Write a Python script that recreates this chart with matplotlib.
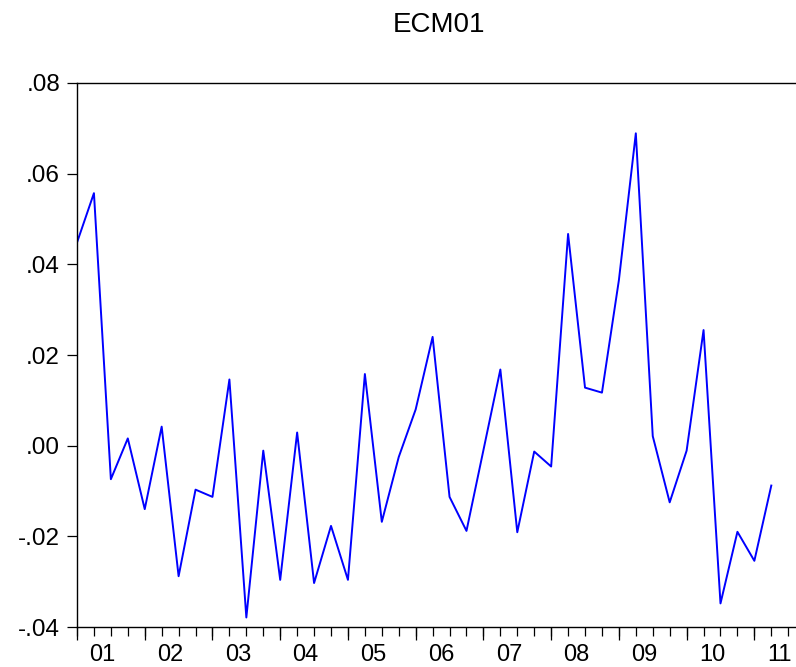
import matplotlib
matplotlib.use("Agg")
import matplotlib.pyplot as plt

# ECM01 quarterly residuals
ecm01 = [0.0448, 0.0557, -0.0074, 0.0016, -0.0140, 0.0042, -0.0288, -0.0097,
         -0.0113, 0.0146, -0.0379, -0.0011, -0.0296, 0.0029, -0.0303, -0.0177,
         -0.0296, 0.0158, -0.0168, -0.0025, 0.0080, 0.0240, -0.0113, -0.0188,
         -0.0010, 0.0168, -0.0191, -0.0013, -0.0046, 0.0467, 0.0128, 0.0117,
         0.0365, 0.0689, 0.0021, -0.0125, -0.0011, 0.0255, -0.0348, -0.0190,
         -0.0254, -0.0088]
year_labels = ["01", "02", "03", "04", "05", "06", "07", "08", "09", "10", "11"]
y_ticks = [-0.04, -0.02, 0.00, 0.02, 0.04, 0.06, 0.08]

plt.rcParams['font.family'] = ['Liberation Sans', 'DejaVu Sans']

fig = plt.figure(figsize=(7.96, 6.67), dpi=100)
ax = fig.add_axes([77/796, 40/667, 718/796, 544/667])

x = list(range(len(ecm01)))
ax.plot(x, ecm01, color="#0000ff", lw=1.4)

ax.set_xlim(0, 42.4)
ax.set_ylim(-0.04, 0.08)

ax.spines['right'].set_visible(False)
for s in ['left', 'top', 'bottom']:
    ax.spines[s].set_linewidth(1.0)

# y axis
ax.set_yticks(y_ticks)
ax.set_yticklabels([("%.2f" % v).replace("0.", ".") for v in y_ticks])
ax.tick_params(axis='y', direction='out', length=7.2, width=0.9, pad=5, labelsize=17.5)

# x axis: labels between ticks, short ticks every quarter
ax.set_xticks([1.5 + 4*k for k in range(len(year_labels))])
ax.set_xticklabels(year_labels)
ax.set_xticks(x + [42], minor=True)
ax.tick_params(axis='x', which='major', length=0, pad=12, labelsize=17)
ax.tick_params(axis='x', which='minor', direction='out', length=6.5, width=0.9)

# long ticks at the start of each year
sec = ax.secondary_xaxis('bottom')
sec.set_xticks(list(range(0, 41, 4)))
sec.set_xticklabels([])
sec.tick_params(axis='x', direction='out', length=9.4, width=0.9)
sec.spines['bottom'].set_visible(False)

fig.text(439/796, 1 - 25/667, "ECM01", ha='center', va='center', fontsize=20)

fig.savefig("out.png", dpi=100)
